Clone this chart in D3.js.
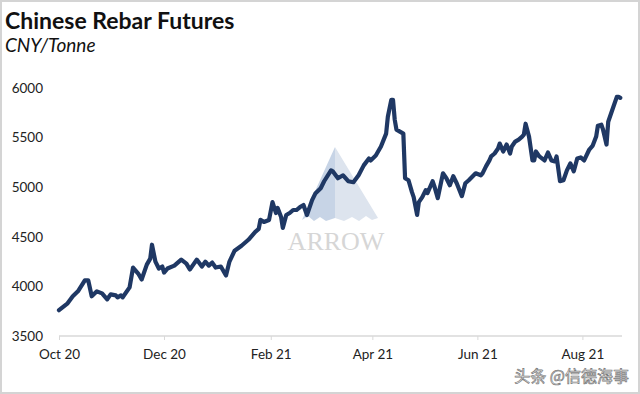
<!DOCTYPE html>
<html>
<head>
<meta charset="utf-8">
<script src="https://cdn.jsdelivr.net/npm/d3@7"></script>
<style>
    body { margin: 0; background: #fff; }
    text { font-family: Lato, "Open Sans", sans-serif; }
</style>
</head>
<body>
<script>
const width = 640, height = 394;

// price series (CNY/Tonne)
const dates = [
    "2020-10-01", "2020-10-06", "2020-10-09", "2020-10-12", "2020-10-16", "2020-10-18", "2020-10-20", "2020-10-23",
    "2020-10-26", "2020-10-29", "2020-10-31", "2020-11-03", "2020-11-04", "2020-11-06", "2020-11-07", "2020-11-11",
    "2020-11-13", "2020-11-16", "2020-11-18", "2020-11-21", "2020-11-23", "2020-11-24", "2020-11-26", "2020-11-28",
    "2020-11-30", "2020-12-01", "2020-12-03", "2020-12-07", "2020-12-11", "2020-12-14", "2020-12-16", "2020-12-18",
    "2020-12-20", "2020-12-23", "2020-12-25", "2020-12-27", "2020-12-29", "2020-12-31", "2021-01-03", "2021-01-06",
    "2021-01-08", "2021-01-11", "2021-01-15", "2021-01-19", "2021-01-23", "2021-01-25", "2021-01-26", "2021-01-28",
    "2021-01-31", "2021-02-02", "2021-02-04", "2021-02-05", "2021-02-07", "2021-02-08", "2021-02-10", "2021-02-12",
    "2021-02-14", "2021-02-16", "2021-02-18", "2021-02-20", "2021-02-22", "2021-02-25", "2021-02-27", "2021-03-02",
    "2021-03-04", "2021-03-08", "2021-03-09", "2021-03-12", "2021-03-15", "2021-03-18", "2021-03-21", "2021-03-24",
    "2021-03-27", "2021-03-30", "2021-03-31", "2021-04-03", "2021-04-06", "2021-04-09", "2021-04-10", "2021-04-12",
    "2021-04-13", "2021-04-14", "2021-04-15", "2021-04-18", "2021-04-19", "2021-04-20", "2021-04-22", "2021-04-24",
    "2021-04-25", "2021-04-27", "2021-04-28", "2021-04-30", "2021-05-02", "2021-05-03", "2021-05-06", "2021-05-07",
    "2021-05-09", "2021-05-12", "2021-05-14", "2021-05-16", "2021-05-18", "2021-05-20", "2021-05-23", "2021-05-25",
    "2021-05-27", "2021-05-31", "2021-06-03", "2021-06-04", "2021-06-06", "2021-06-08", "2021-06-09", "2021-06-11",
    "2021-06-13", "2021-06-14", "2021-06-16", "2021-06-18", "2021-06-20", "2021-06-21", "2021-06-23", "2021-06-25",
    "2021-06-27", "2021-06-28", "2021-06-29", "2021-07-01", "2021-07-03", "2021-07-04", "2021-07-05", "2021-07-07",
    "2021-07-10", "2021-07-12", "2021-07-14", "2021-07-16", "2021-07-17", "2021-07-19", "2021-07-21", "2021-07-23",
    "2021-07-25", "2021-07-27", "2021-07-29", "2021-07-31", "2021-08-02", "2021-08-05", "2021-08-07", "2021-08-09",
    "2021-08-10", "2021-08-12", "2021-08-13", "2021-08-15", "2021-08-16", "2021-08-18", "2021-08-21", "2021-08-22",
    "2021-08-23"
];
const prices = [
    3760, 3830, 3900, 3950, 4060, 4060, 3900, 3950,
    3930, 3870, 3920, 3910, 3890, 3910, 3890, 3990,
    4190, 4130, 4070, 4220, 4280, 4420, 4250, 4180,
    4200, 4140, 4180, 4210, 4270, 4230, 4170, 4220,
    4270, 4200, 4250, 4210, 4240, 4190, 4200, 4110,
    4250, 4360, 4410, 4470, 4550, 4580, 4670, 4650,
    4670, 4850, 4740, 4790, 4700, 4590, 4720, 4740,
    4770, 4770, 4800, 4820, 4720, 4870, 4940, 4990,
    5060, 5170, 5160, 5090, 5120, 5060, 5050, 5120,
    5220, 5290, 5270, 5320, 5410, 5540, 5710, 5880,
    5880, 5680, 5580, 5550, 5540, 5090, 5070, 4950,
    4900, 4720, 4850, 4900, 4970, 4940, 5060, 5010,
    4890, 5140, 5090, 5020, 5110, 5040, 4910, 5040,
    5070, 5140, 5120, 5140, 5210, 5270, 5310, 5340,
    5390, 5440, 5360, 5430, 5340, 5410, 5460, 5480,
    5510, 5530, 5640, 5510, 5270, 5270, 5360, 5310,
    5270, 5350, 5270, 5260, 5310, 5060, 5070, 5170,
    5240, 5160, 5290, 5300, 5270, 5380, 5420, 5510,
    5620, 5630, 5580, 5430, 5660, 5760, 5910, 5910,
    5900
];
const yTicks = [3500, 4000, 4500, 5000, 5500, 6000];
const xTicks = ["2020-10-01", "2020-12-01", "2021-02-01", "2021-04-01", "2021-06-01", "2021-08-01"];

const parse = d3.timeParse("%Y-%m-%d");
const data = dates.map((d, i) => ({ date: parse(d), price: prices[i] }));

const svg = d3.select("body")
    .append("svg")
    .attr("width", width)
    .attr("height", height)

// light frame round the picture
svg.append("rect")
    .attr("x", 1)
    .attr("y", 1)
    .attr("width", width - 2)
    .attr("height", height - 2)
    .attr("fill", "#fff")
    .attr("stroke", "#d4d4d4")
    .attr("stroke-width", 2)

svg.append("text")
    .attr("x", 5)
    .attr("y", 29)
    .style("font-size", "23px")
    .style("font-weight", "bold")
    .attr("fill", "#111")
    .text("Chinese Rebar Futures");
svg.append("text")
    .attr("x", 5)
    .attr("y", 52)
    .style("font-size", "19px")
    .style("font-style", "italic")
    .attr("fill", "#111")
    .text("CNY/Tonne");

const xScale = d3.scaleTime()
    .domain([parse("2020-10-01"), parse("2021-08-24")])
    .range([59, 622])
const yScale = d3.scaleLinear()
    .domain([3500, 6000])
    .range([336, 88])

// ARROW watermark behind the line
const logo = svg.append("g").attr("id", "logo")
const apex = [335, 147], baseY = 220;
logo.append("path")
    .attr("d", `M${apex[0]},${apex[1]} L302,${baseY} L308,${baseY - 4} L314,${baseY + 1} L320,${baseY - 3} L326,${baseY + 1} L${apex[0]},${baseY - 2} Z`)
    .attr("fill", "#c7d4e6")
logo.append("path")
    .attr("d", `M${apex[0]},${apex[1]} L${apex[0]},${baseY - 2} L344,${baseY + 1} L352,${baseY - 3} L359,${baseY + 1} L366,${baseY - 4} L372,${baseY} L378,${baseY - 2} Z`)
    .attr("fill", "#dde4ee")
logo.append("text")
    .attr("x", 336)
    .attr("y", 250)
    .attr("text-anchor", "middle")
    .style("font-family", "'Liberation Serif', 'DejaVu Serif', serif")
    .style("font-size", "26px")
    .attr("fill", "#d6d6d6")
    .text("ARROW");

const xAxis = d3.axisBottom(xScale)
    .tickValues(xTicks.map(parse))
    .tickFormat(d3.timeFormat("%b %y"))
    .tickSize(4)
    .tickPadding(9);
const yAxis = d3.axisLeft(yScale)
    .tickValues(yTicks)
    .tickFormat(d3.format("d"))
    .tickSize(0)
    .tickPadding(16);

const gx = svg.append("g")
    .attr("id", "x-axis")
    .attr("transform", "translate(0,336)")
    .call(xAxis);
gx.select(".domain").attr("stroke", "#d9d9d9").attr("stroke-width", 1.5).attr("d", "M59,0H622");
gx.selectAll(".tick line").attr("stroke", "#d9d9d9");
gx.selectAll(".tick text").style("font-size", "13.5px").attr("fill", "#222");

const gy = svg.append("g")
    .attr("id", "y-axis")
    .attr("transform", "translate(59,0)")
    .call(yAxis);
gy.select(".domain").remove();
gy.selectAll(".tick text").style("font-size", "13.5px").attr("fill", "#222");

const line = d3.line()
    .x(d => xScale(d.date))
    .y(d => yScale(d.price));
svg.append("path")
    .datum(data)
    .attr("fill", "none")
    .attr("stroke", "#1f3864")
    .attr("stroke-width", 4.2)
    .attr("stroke-linejoin", "round")
    .attr("stroke-linecap", "round")
    .attr("d", line);

// source watermark, bottom right
svg.append("text")
    .attr("x", 629)
    .attr("y", 382)
    .attr("text-anchor", "end")
    .style("font-family", "'Noto Sans CJK SC', sans-serif")
    .style("font-size", "16px")
    .attr("fill", "#fafafa")
    .attr("stroke", "#7a7a7a")
    .attr("stroke-width", 0.7)
    .text("头条 @信德海事");
</script>
</body>
</html>
